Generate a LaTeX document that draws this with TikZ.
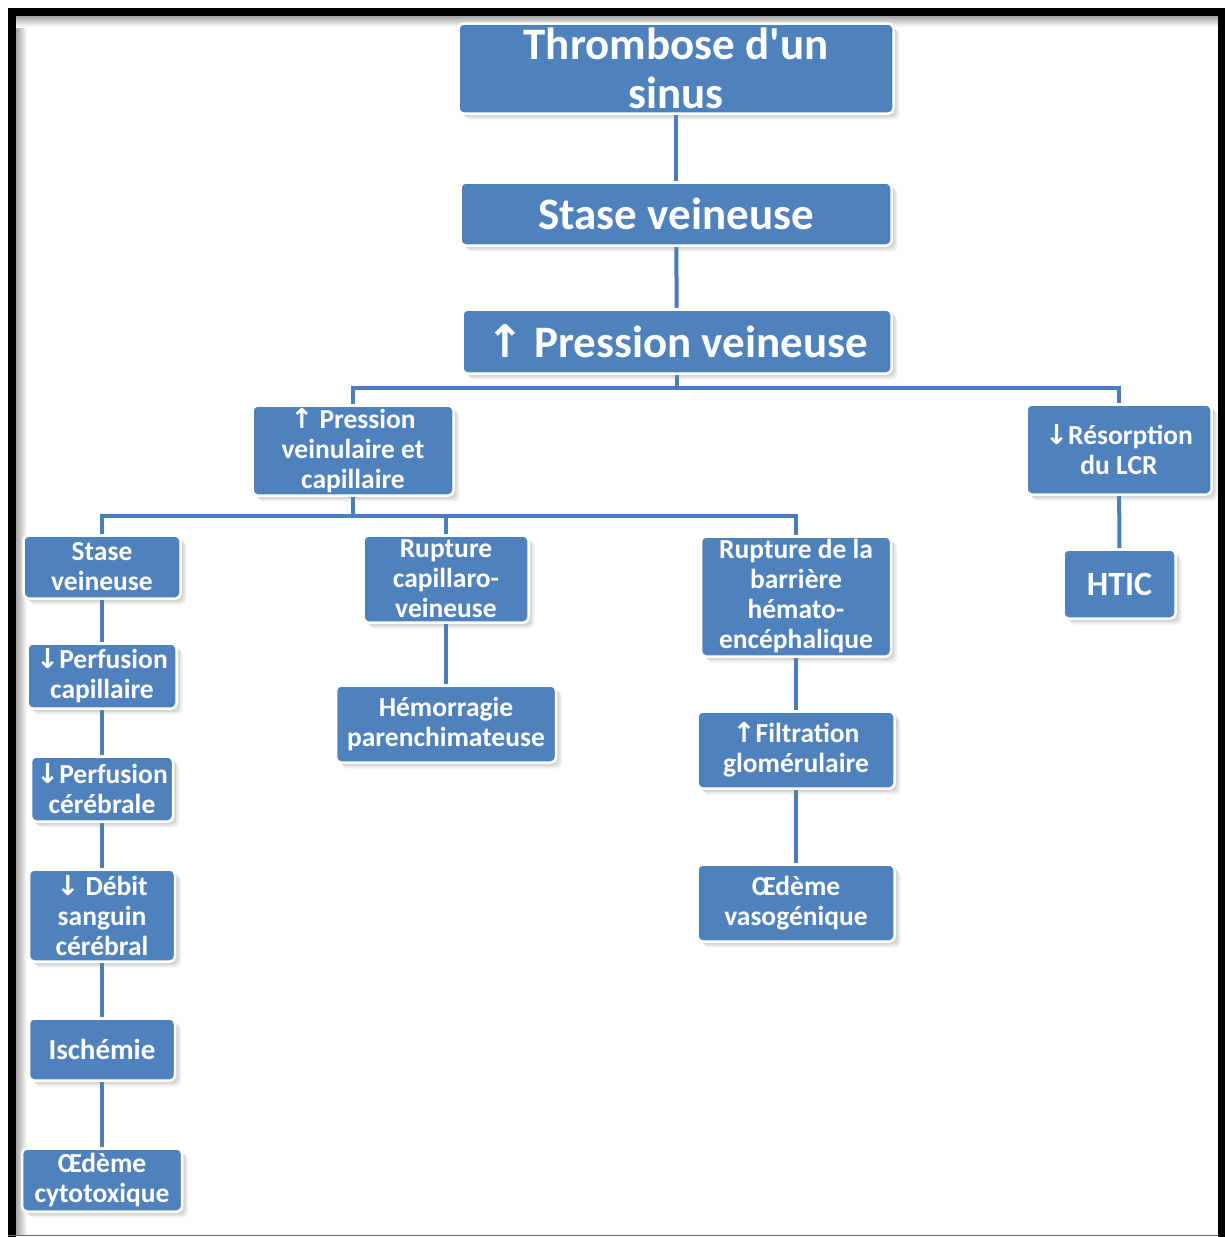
\documentclass[tikz,border=0pt]{standalone}
\usepackage{fontspec}
\setmainfont{Carlito}
\newfontfamily\arr{DejaVu Sans}
\usetikzlibrary{shadows,backgrounds}
\definecolor{boxblue}{HTML}{4F81BD}
\definecolor{lineblue}{HTML}{4A7EBB}
\newcommand{\up}{{\arr\bfseries ↑}}
\newcommand{\down}{{\arr\bfseries ↓}}
\begin{document}
\begin{tikzpicture}[x=1pt,y=-1pt,
  box/.style={draw=white, line width=2.5pt, fill=boxblue, rounded corners=5pt,
    text=white, align=center, inner sep=0pt,
    drop shadow={opacity=0.10, shadow xshift=6pt, shadow yshift=-6pt},
    drop shadow={opacity=0.12, shadow xshift=4.5pt, shadow yshift=-4.5pt},
    drop shadow={opacity=0.15, shadow xshift=3pt, shadow yshift=-3pt}},
  big/.style={font=\fontsize{45}{49}\selectfont\bfseries},
  small/.style={font=\fontsize{27.5}{30}\selectfont\bfseries},
  link/.style={draw=lineblue, line width=4pt}]

% nodes
\node[box, big, minimum width=435, minimum height=90] (thr) at (676,68.5) {Thrombose d\textquotesingle un\\sinus};
\node[box, big, minimum width=431, minimum height=63] (st1) at (676,214) {Stase veineuse};
\node[box, big, minimum width=429, minimum height=64] (pv) at (677,341.5) {\up\ Pression veineuse};
\node[box, small, minimum width=201, minimum height=90] (pvc) at (353,450.5) {\up\ Pression\\veinulaire et\\capillaire};
\node[box, small, minimum width=185, minimum height=90] (res) at (1119,449.5) {\down Résorption\\du LCR};
\node[box, font=\fontsize{34}{40}\selectfont\bfseries, minimum width=112, minimum height=69] (htic) at (1119.5,584) {HTIC};
\node[box, small, minimum width=157, minimum height=63] (sv2) at (102,567) {Stase\\veineuse};
\node[box, small, minimum width=165, minimum height=87] (rup) at (446,579) {Rupture\\capillaro-\\veineuse};
\node[box, small, minimum width=190, minimum height=120] (bbb) at (796,596.5) {Rupture de la\\barrière\\hémato-\\encéphalique};
\node[box, small, minimum width=149, minimum height=65] (perf1) at (102,676) {\down Perfusion\\capillaire};
\node[box, small, minimum width=142, minimum height=65] (perf2) at (102,789) {\down Perfusion\\cérébrale};
\node[box, small, minimum width=146, minimum height=92] (debit) at (102,915.5) {\down\ Débit\\sanguin\\cérébral};
\node[box, font=\fontsize{29}{34}\selectfont\bfseries, minimum width=146, minimum height=62] (isch) at (102,1049.5) {Ischémie};
\node[box, small, minimum width=160, minimum height=63] (oed1) at (102,1180) {Œdème\\cytotoxique};
\node[box, small, minimum width=220, minimum height=77] (hem) at (446,724) {Hémorragie\\parenchimateuse};
\node[box, small, minimum width=197, minimum height=77] (filt) at (796,750) {\up Filtration\\glomérulaire};
\node[box, small, minimum width=197, minimum height=77] (oed2) at (796,903) {Œdème\\vasogénique};

\begin{scope}[on background layer]
  % page and frame
  \fill[white] (0,0) rectangle (1225,1237);
  \shade[left color=black!35, right color=white] (16,16) rectangle (27,1235);
  \shade[top color=black!35, bottom color=white] (16,16) rectangle (1218,27);
  \fill[black] (8,8) rectangle (1225,16);
  \fill[black] (8,8) rectangle (16,1237);
  \fill[black] (1218,8) rectangle (1225,1237);
  \draw[black!60, line width=1.5pt] (8,1235.5) -- (1218,1235.5);
  % connectors
  \draw[link] (thr) -- (st1);
  \draw[link] (st1) -- (pv);
  \draw[link] (pv.south) -- ++(0,13) -| (pvc.north);
  \draw[link] (pv.south) -- ++(0,13) -| (res.north);
  \draw[link] (res) -- (htic);
  \draw[link] (pvc.south) -- ++(0,19) -| (sv2.north);
  \draw[link] (pvc.south) -- ++(0,19) -| (rup.north);
  \draw[link] (pvc.south) -- ++(0,19) -| (bbb.north);
  \draw[link] (sv2) -- (perf1);
  \draw[link] (perf1) -- (perf2);
  \draw[link] (perf2) -- (debit);
  \draw[link] (debit) -- (isch);
  \draw[link] (isch) -- (oed1);
  \draw[link] (rup) -- (hem);
  \draw[link] (bbb) -- (filt);
  \draw[link] (filt) -- (oed2);
\end{scope}
\useasboundingbox (0,0) rectangle (1225,1237);
\end{tikzpicture}
\end{document}
